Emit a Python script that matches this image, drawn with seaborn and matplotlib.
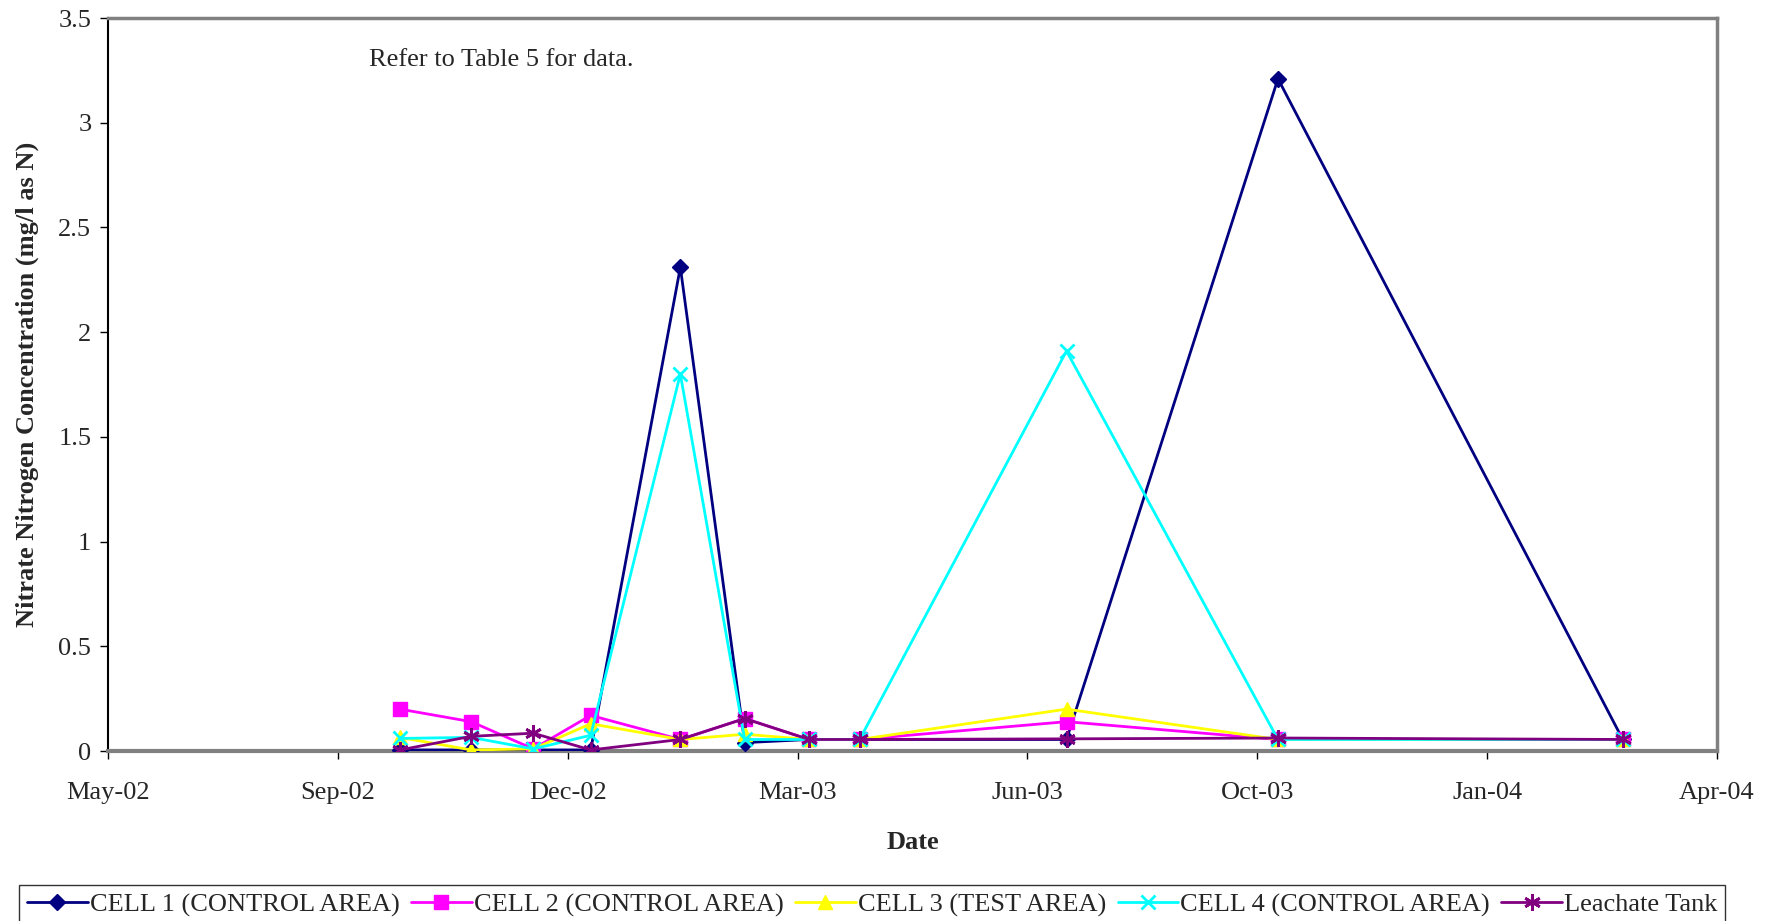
import matplotlib
matplotlib.use("Agg")
import matplotlib.pyplot as plt
import matplotlib.dates as mdates
import seaborn as sns
import pandas as pd
import numpy as np
from matplotlib.ticker import FixedLocator, FuncFormatter

# ---- data ----
dates = ["2002-09-28", "2002-10-29", "2002-11-25", "2002-12-20", "2003-01-28",
         "2003-02-25", "2003-03-25", "2003-04-16", "2003-07-15", "2003-10-15",
         "2004-03-13"]
cell1 = [0.005, 0.005, 0.005, 0.005, 2.31, 0.04, 0.055, 0.055, 0.055, 3.21, 0.055]
cell2 = [0.20, 0.14, 0.01, 0.17, 0.055, 0.155, 0.055, 0.055, 0.14, 0.055, 0.055]
cell3 = [0.065, 0.005, 0.01, 0.13, 0.055, 0.08, 0.055, 0.055, 0.20, 0.055, 0.055]
cell4 = [0.06, 0.065, 0.01, 0.075, 1.80, 0.055, 0.055, 0.055, 1.91, 0.055, 0.055]
leachate = [0.005, 0.07, 0.085, 0.005, 0.055, 0.155, 0.055, 0.055, 0.058, 0.062, 0.055]

series_names = ["CELL 1 (CONTROL AREA)", "CELL 2 (CONTROL AREA)", "CELL 3 (TEST AREA)",
                "CELL 4 (CONTROL AREA)", "Leachate Tank"]
series_values = [cell1, cell2, cell3, cell4, leachate]
colors = ["#000080", "#FF00FF", "#FFFF00", "#00FFFF", "#800080"]
markers = ["D", "s", "^", "x", (6, 2, 0)]
msizes = [8, 10, 10, 10, 12]
mews = [1, 1, 1, 2, 2]

y_ticks = [0, 0.5, 1, 1.5, 2, 2.5, 3, 3.5]
x_tick_dates = ["2002-05-24", "2002-09-01", "2002-12-10", "2003-03-20",
                "2003-06-28", "2003-10-06", "2004-01-14", "2004-04-23"]

sns.set_theme(style="white")
plt.rcParams["font.family"] = ["Liberation Serif", "DejaVu Serif"]

FS = 19

fig = plt.figure(figsize=(17.74, 9.21), dpi=100)
ax = fig.add_axes([108 / 1774, 1 - 751 / 921, (1717 - 108) / 1774, (751 - 18) / 921])

d = pd.to_datetime(dates)
for i, (name, vals) in enumerate(zip(series_names, series_values)):
    df = pd.DataFrame({"Date": d, "val": vals})
    sns.lineplot(data=df, x="Date", y="val", ax=ax, color=colors[i], lw=2,
                 marker=markers[i], ms=msizes[i], mec=colors[i], mfc=colors[i],
                 mew=mews[i], label=name, zorder=3 + i, legend=False)

xt = pd.to_datetime(x_tick_dates)
ax.set_xlim(xt[0], xt[-1])
ax.xaxis.set_major_locator(FixedLocator(mdates.date2num(xt)))
ax.xaxis.set_major_formatter(mdates.DateFormatter("%b-%y"))
ax.set_ylim(0, 3.5)
ax.yaxis.set_major_locator(FixedLocator(y_ticks))
ax.yaxis.set_major_formatter(FuncFormatter(lambda v, p: f"{v:g}"))

ax.tick_params(axis="both", which="major", direction="out", length=6, width=1,
               color="black", labelsize=FS, bottom=True, left=True)
ax.tick_params(axis="x", pad=16)
ax.tick_params(axis="y", pad=6)

for s in ["top", "right"]:
    ax.spines[s].set_color("#808080")
    ax.spines[s].set_linewidth(2.5)
ax.spines["bottom"].set_color("#808080")
ax.spines["bottom"].set_linewidth(3)
ax.spines["left"].set_color("black")
ax.spines["left"].set_linewidth(1.5)

ax.set_xlabel("Date", fontsize=FS, fontweight="bold", labelpad=20)
ax.set_ylabel("Nitrate Nitrogen Concentration (mg/l as N)", fontsize=FS,
              fontweight="bold", labelpad=14)

fig.text(369 / 1774, 1 - 60 / 921, "Refer to Table 5 for data.", fontsize=FS,
         va="center", ha="left")

handles, labels = ax.get_legend_handles_labels()
leg = fig.legend(handles, labels, loc="upper left", bbox_to_anchor=(19 / 1774, 1 - 885 / 921),
                 ncol=5, frameon=True, fancybox=False, fontsize=FS, handlelength=2.3,
                 handletextpad=0.075, columnspacing=0.44, borderpad=0.3, borderaxespad=0)
leg.get_frame().set_edgecolor("black")
leg.get_frame().set_linewidth(1)

fig.savefig("out.png", dpi=100, facecolor="white")
